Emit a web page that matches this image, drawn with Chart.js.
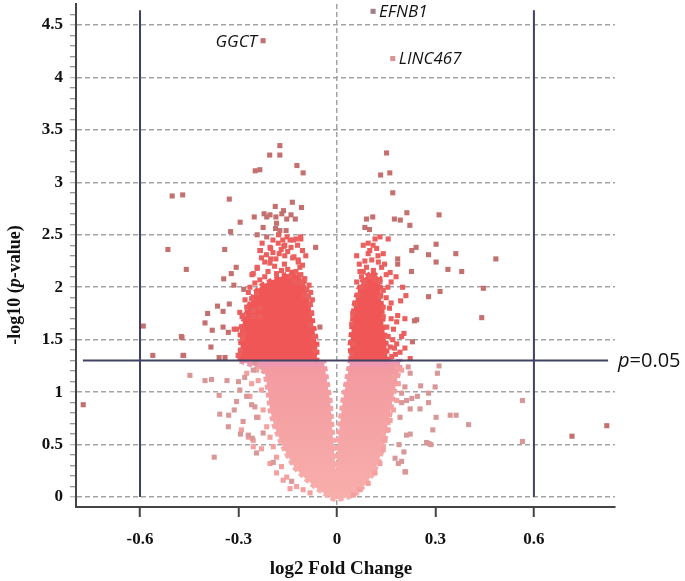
<!DOCTYPE html>
<html>
<head>
<meta charset="utf-8">
<script src="https://cdn.jsdelivr.net/npm/chart.js@4.4.1/dist/chart.umd.min.js"></script>
<style>
  html, body { margin: 0; padding: 0; background: #fff; }
  #wrap { width: 685px; height: 581px; position: relative; }
</style>
</head>
<body>
<div id="wrap"><canvas id="volcano"></canvas></div>
<script>
// ===========================
// Data (x = log2 FC, y = -log10 p)
// ===========================
const xTicks = [-0.6, -0.3, 0, 0.3, 0.6];
const yMajorTicks = [0, 0.5, 1, 1.5, 2, 2.5, 3, 3.5, 4, 4.5];
const pCut = 1.301;     // p = 0.05
const fcCut = 0.6;

const geneNames = ["EFNB1", "LINC467", "GGCT"];
const geneX = [0.110, 0.170, -0.225];
const geneY = [4.63, 4.18, 4.35];
const geneColors = ["#a27f8a", "#d99494", "#c27070"];

// outlines of the solid, overplotted clouds
const pinkCore = [[-0.296,1.295],[-0.250,1.248],[-0.220,1.190],[-0.210,1.019],[-0.204,0.829],[-0.192,0.686],
  [-0.174,0.543],[-0.152,0.400],[-0.128,0.276],[-0.098,0.181],[-0.067,0.095],[-0.037,0.029],[-0.012,-0.019],
  [0.009,-0.019],[0.034,0.0],[0.061,0.038],[0.085,0.114],[0.107,0.210],[0.125,0.324],[0.140,0.467],
  [0.152,0.638],[0.162,0.800],[0.171,0.952],[0.183,1.114],[0.192,1.248],[0.192,1.295],[0.040,1.295],
  [0.018,0.924],[0.003,0.543],[-0.003,0.238],[-0.012,0.543],[-0.021,0.924],[-0.040,1.295]];
const redLeftCore = [[-0.296,1.295],[-0.293,1.467],[-0.296,1.590],[-0.280,1.714],[-0.265,1.848],[-0.250,1.952],
  [-0.229,2.019],[-0.198,2.067],[-0.168,2.105],[-0.137,2.143],[-0.113,2.105],[-0.095,2.019],[-0.082,1.848],
  [-0.073,1.657],[-0.061,1.467],[-0.061,1.295]];
const redRightCore = [[0.043,1.295],[0.040,1.448],[0.046,1.638],[0.052,1.829],[0.064,1.971],[0.082,2.086],
  [0.107,2.143],[0.131,2.086],[0.134,1.876],[0.140,1.686],[0.149,1.495],[0.155,1.295]];

// single squares
const darkRed = [[-0.502,2.87],[-0.470,2.88],[-0.515,2.36],[-0.459,2.17],[-0.328,2.84],[-0.295,2.62],[-0.324,2.53],
  [-0.342,2.36],[-0.307,2.19],[-0.322,2.13],[-0.345,2.08],[-0.065,2.38],[-0.252,2.67],[-0.249,3.11],[-0.235,3.12],
  [-0.205,3.26],[-0.174,3.35],[-0.174,3.26],[-0.122,3.16],[-0.103,3.09],[-0.108,2.76],[-0.136,2.81],[-0.188,2.77],
  [-0.163,2.73],[-0.222,2.70],[-0.214,2.67],[-0.186,2.67],[-0.168,2.70],[-0.140,2.69],[-0.127,2.65],[-0.225,2.57],
  [-0.187,2.56],[-0.155,2.54],[-0.243,2.50],[-0.214,2.48],[-0.314,2.02],[-0.284,1.98],[-0.364,1.82],[-0.394,1.75],
  [-0.347,1.77],[-0.328,1.84],[-0.402,1.66],[-0.380,1.59],[-0.347,1.62],[-0.331,1.57],[-0.472,1.52],[-0.384,1.43],
  [-0.469,1.35],[-0.359,1.33],[-0.341,1.33],[-0.590,1.63],[-0.561,1.35],[-0.474,1.53],[-0.467,1.35],[-0.052,1.62],
  [-0.184,2.61],[-0.204,2.69],[-0.153,2.65],[-0.174,2.54],[-0.773,0.88],
  [0.151,3.28],[0.133,3.07],[0.161,3.09],[0.170,2.90],[0.090,2.65],[0.109,2.67],[0.175,2.65],[0.193,2.64],
  [0.213,2.71],[0.222,2.59],[0.311,2.69],[0.085,2.57],[0.099,2.55],[0.228,2.35],[0.241,2.38],[0.302,2.41],
  [0.279,2.31],[0.362,2.32],[0.484,2.27],[0.302,2.24],[0.338,2.17],[0.380,2.15],[0.227,2.15],[0.446,1.99],
  [0.314,1.96],[0.279,1.91],[0.441,1.71],[0.236,1.68],[0.243,1.69],[0.230,1.48],[0.185,2.27],[0.185,2.22],
  [0.716,0.58],[0.822,0.68]];
const brightRed = [[-0.178,2.50],[-0.152,2.48],[-0.133,2.45],[-0.110,2.46],[-0.162,2.39],[-0.233,2.35],[-0.202,2.37],
  [-0.176,2.32],[-0.135,2.28],[-0.118,2.26],[-0.202,2.27],[-0.220,2.24],[-0.243,2.18],[-0.113,2.19],[-0.100,2.08],
  [-0.259,2.12],[-0.296,1.76],[-0.313,1.60],[-0.301,1.35],[-0.306,1.60],[-0.284,1.56],[-0.289,1.72],[-0.255,1.72],
  [-0.235,1.72],[-0.255,2.13],[-0.243,2.19],[-0.204,2.23],[-0.186,2.27],[-0.159,2.30],[-0.131,2.29],[-0.118,2.24],
  [-0.105,2.21],[-0.098,2.08],[-0.108,2.04],[-0.092,1.98],[-0.250,2.04],[-0.235,2.07],[-0.220,2.10],[-0.184,2.13],
  [-0.169,2.16],[-0.143,2.10],[-0.128,2.05],[-0.245,1.94],[-0.260,1.89],[-0.275,1.81],[-0.286,1.73],[-0.291,1.62],
  [-0.288,1.51],[-0.294,1.40],[-0.255,1.78],[-0.235,1.80],[-0.082,1.84],[-0.088,1.91],[-0.077,1.75],[-0.082,1.64],
  [-0.072,1.53],[-0.067,1.40],[-0.098,1.92],[-0.204,2.38],[-0.179,2.42],[-0.159,2.40],[-0.143,2.45],[-0.125,2.46],
  [-0.111,2.48],[-0.235,2.35],[-0.230,2.28],[-0.215,2.31],[-0.195,2.33],[-0.170,2.36],[-0.150,2.34],[-0.140,2.38],
  [-0.120,2.40],[-0.105,2.35],[-0.095,2.30],[-0.190,2.20],[-0.160,2.22],[-0.150,2.17],[-0.125,2.15],[-0.110,2.12],
  [-0.265,2.00],[-0.270,1.95],[-0.280,1.88],[-0.210,2.15],[-0.195,2.45],[-0.165,2.45],[-0.228,2.42],[-0.085,2.02],
  [-0.080,1.95],[-0.075,1.88],
  [0.116,2.46],[0.131,2.48],[0.156,2.46],[0.121,2.37],[0.141,2.32],[0.095,2.32],[0.068,2.22],[0.080,2.15],
  [0.136,2.19],[0.162,2.14],[0.165,2.05],[0.180,2.10],[0.200,2.00],[0.210,1.92],[0.194,1.87],[0.165,1.85],
  [0.141,1.81],[0.185,1.73],[0.207,1.70],[0.172,1.60],[0.204,1.56],[0.182,1.46],[0.207,1.42],[0.223,1.32],
  [0.192,1.38],[0.045,1.65],[0.048,1.75],[0.055,1.84],[0.065,1.92],[0.075,2.00],[0.085,2.05],[0.101,2.10],
  [0.116,2.08],[0.131,2.05],[0.141,1.97],[0.131,1.91],[0.141,1.72],[0.152,1.62],[0.156,1.53],[0.162,1.43],
  [0.167,1.34],[0.050,1.46],[0.045,1.37],[0.090,2.19],[0.111,2.16],[0.126,2.24],[0.106,2.26],[0.075,2.10],
  [0.182,1.67],[0.197,1.53],[0.060,2.05],[0.070,2.15],[0.085,2.25],[0.100,2.35],[0.110,2.40],[0.125,2.30],
  [0.145,2.22],[0.150,2.12],[0.155,2.00],[0.150,1.90],[0.160,1.80],[0.165,1.70],[0.170,1.50],[0.175,1.42],
  [0.178,1.36],[0.060,2.30],[0.095,2.42],[0.080,2.40]];
const dustyPink = [[-0.448,1.16],[-0.402,1.11],[-0.382,1.12],[-0.374,0.38],[-0.359,0.97],[-0.357,0.79],[-0.330,0.78],
  [-0.335,1.11],[-0.313,0.83],[-0.331,0.67],[-0.294,0.60],[-0.270,0.59],[-0.258,0.56],[-0.245,0.42],[-0.194,0.33],
  [-0.138,0.15],[-0.300,1.10],[-0.296,1.02],[-0.281,1.14],[-0.275,0.96],[-0.260,0.88],[-0.250,0.86],[-0.245,0.76],
  [-0.255,1.21],[-0.249,1.28],[-0.286,0.72],[-0.306,0.91],[-0.225,0.61],
  [0.311,1.25],[0.306,1.18],[0.255,1.06],[0.299,1.05],[0.279,0.99],[0.245,0.96],[0.228,0.94],[0.212,0.92],
  [0.279,0.90],[0.223,0.84],[0.253,0.84],[0.302,0.76],[0.345,0.78],[0.363,0.78],[0.401,0.69],[0.292,0.64],
  [0.212,0.59],[0.223,0.60],[0.273,0.52],[0.286,0.50],[0.204,0.43],[0.177,0.37],[0.187,0.32],[0.207,0.24],
  [0.189,0.50],[0.197,0.90],[0.192,0.76],[0.280,0.51],[0.209,0.24],[0.197,0.34],[0.565,0.92],[0.565,0.53],
  [0.217,1.24],[0.223,1.18],[0.207,1.05],[0.197,0.99]];
const lightPink = [[-0.275,1.18],[-0.245,1.21],[-0.260,1.08],[-0.240,1.11],[-0.230,1.02],[-0.265,0.96],[-0.240,0.76],
  [-0.225,0.83],[-0.214,0.67],[-0.204,0.57],[-0.194,0.48],[-0.184,0.38],[-0.169,0.29],[-0.153,0.19],[-0.123,0.10],
  [-0.103,0.07],[-0.082,0.04],[-0.291,0.64],[-0.255,0.54],[-0.270,0.57],[-0.255,0.48],[-0.230,0.46],[-0.204,0.32],
  [-0.184,0.23],[-0.164,0.16],[-0.143,0.08],
  [0.182,1.24],[0.197,1.21],[0.172,1.15],[0.187,1.08],[0.167,1.00],[0.182,0.92],[0.172,0.83],[0.162,0.73],
  [0.156,0.64],[0.146,0.54],[0.141,0.45],[0.131,0.32],[0.116,0.23],[0.095,0.13],[0.070,0.07],[0.050,0.02]];

// guide lines
const pLine = [[-0.774, pCut], [0.826, pCut]];
const fcLineTop = 4.64;

// ===========================
// Helpers
// ===========================
const toXY = arr => arr.map(p => ({x: p[0], y: p[1]}));
const isMajorY = v => yMajorTicks.some(m => Math.abs(m - v) < 1e-6);
const serif = "'Liberation Serif', 'Times New Roman', serif";
const sans = "'Open Sans', 'DejaVu Sans', sans-serif";

function pinkFill(c) {
  const ch = c.chart;
  if (!ch.chartArea) return "#f6a3a1";
  const y0 = ch.scales.y.getPixelForValue(pCut);
  const y1 = ch.scales.y.getPixelForValue(0);
  const g = ch.ctx.createLinearGradient(0, y0, 0, y1);
  g.addColorStop(0, "#e895bd");
  g.addColorStop(0.06, "#f39aa0");
  g.addColorStop(1, "#f8aeab");
  return g;
}

function points(arr, color, order) {
  return { type: "scatter", data: toXY(arr), backgroundColor: color, borderWidth: 0,
           pointStyle: "rect", pointRadius: 3.6, order: order };
}
// filled outline; the thick dashed edge in the same colour gives the ragged look of stacked squares
function shape(arr, color, order) {
  return { type: "line", data: toXY(arr), backgroundColor: color, borderColor: color, borderWidth: 5,
           borderDash: [5, 3], pointRadius: 0, fill: "shape", tension: 0, order: order };
}
function guide(arr, order) {
  return { type: "line", data: toXY(arr), borderColor: "#3f4263", borderWidth: 2,
           pointRadius: 0, fill: false, tension: 0, order: order };
}

// ===========================
// Text layer: gene labels, p=0.05, axis titles
// ===========================
const textPlugin = {
  id: "volcanoText",
  afterDatasetsDraw(chart) {
    const {ctx, scales: {x, y}, chartArea} = chart;
    ctx.save();
    ctx.fillStyle = "#111";
    ctx.font = "italic 17px " + sans;
    ctx.textBaseline = "middle";
    geneNames.forEach((name, i) => {
      const px = x.getPixelForValue(geneX[i]), py = y.getPixelForValue(geneY[i]);
      if (geneX[i] < 0) { ctx.textAlign = "right"; ctx.fillText(name, px - 6, py + 1); }
      else { ctx.textAlign = "left"; ctx.fillText(name, px + 6, py + 1); }
    });
    // p=0.05 at the right end of the cut line
    const ty = y.getPixelForValue(pCut) + 1;
    let tx = chartArea.right + 3;
    ctx.textAlign = "left";
    ctx.font = "italic 20px " + sans;
    ctx.fillText("p", tx, ty);
    tx += ctx.measureText("p").width;
    ctx.font = "20px " + sans;
    ctx.fillText("=0.05", tx, ty);
    ctx.restore();
  },
  afterDraw(chart) {
    const {ctx, chartArea} = chart;
    ctx.save();
    ctx.fillStyle = "#111";
    ctx.textBaseline = "middle";
    // x title
    ctx.font = "bold 19px " + serif;
    ctx.textAlign = "center";
    ctx.fillText("log2 Fold Change", 341, 569);
    // y title, with italic p
    const parts = [["-log10 (", "bold 18px "], ["p", "italic bold 18px "], ["-value)", "bold 18px "]];
    let w = 0;
    parts.forEach(p => { ctx.font = p[1] + serif; w += ctx.measureText(p[0]).width; });
    ctx.translate(15, 285);
    ctx.rotate(-Math.PI / 2);
    ctx.textAlign = "left";
    let cx = -w / 2;
    parts.forEach(p => { ctx.font = p[1] + serif; ctx.fillText(p[0], cx, 0); cx += ctx.measureText(p[0]).width; });
    ctx.restore();
  }
};

// ===========================
// Chart
// ===========================
const geneSet = points(geneNames.map((n, i) => [geneX[i], geneY[i]]), geneColors, 1);

new Chart(document.getElementById("volcano"), {
  type: "scatter",
  data: {
    datasets: [
      guide(pLine, 0),
      guide([[-fcCut, 0], [-fcCut, fcLineTop]], 0),
      guide([[fcCut, 0], [fcCut, fcLineTop]], 0),
      geneSet,
      points(darkRed, "#c3706f", 2),
      points(brightRed, "#ec5f5f", 3),
      points(dustyPink, "#d99797", 4),
      points(lightPink, "#f3a09f", 5),
      shape(redLeftCore, "#f05656", 6),
      shape(redRightCore, "#f05656", 7),
      shape(pinkCore, pinkFill, 8)
    ]
  },
  options: {
    responsive: true,
    maintainAspectRatio: false,
    animation: false,
    layout: { padding: { left: 0, right: 70, top: 3, bottom: 0 } },
    plugins: { legend: { display: false }, tooltip: { enabled: false } },
    scales: {
      x: {
        type: "linear", min: -0.795, max: 0.847,
        afterBuildTicks: s => { s.ticks = xTicks.map(v => ({value: v})); },
        afterFit: s => { s.height = 74; s.paddingLeft = 0; s.paddingRight = 0; },
        ticks: { callback: v => v === 0 ? "0" : v.toFixed(1), padding: 12, color: "#111",
                 font: { family: serif, size: 17, weight: "bold" }, autoSkip: false, maxRotation: 0 },
        grid: { color: c => c.tick && c.tick.value === 0 ? "#a3a3a3" : "rgba(0,0,0,0)",
                lineWidth: 1.5, tickColor: "#444", tickLength: 10, tickWidth: 2 },
        border: { display: true, color: "#444", width: 2, dash: [5, 3] }
      },
      y: {
        type: "linear", min: -0.095, max: 4.7,
        afterBuildTicks: s => {
          const t = [];
          for (let i = 0; i <= 46; i++) t.push({value: i / 10});
          s.ticks = t;
        },
        afterFit: s => { s.width = 76; s.paddingTop = 0; s.paddingBottom = 0; },
        ticks: { callback: v => isMajorY(v) ? String(Math.round(v * 10) / 10) : "", padding: 7, color: "#111",
                 font: { family: serif, size: 17, weight: "bold" }, autoSkip: false },
        grid: { color: c => c.tick && isMajorY(c.tick.value) ? "#a3a3a3" : "rgba(0,0,0,0)",
                lineWidth: 1.5, tickColor: c => c.tick && isMajorY(c.tick.value) ? "#a3a3a3" : "#777",
                tickLength: 6, tickWidth: 1 },
        border: { display: true, color: "#444", width: 2, dash: [5, 3] }
      }
    }
  },
  plugins: [textPlugin]
});
</script>
</body>
</html>
